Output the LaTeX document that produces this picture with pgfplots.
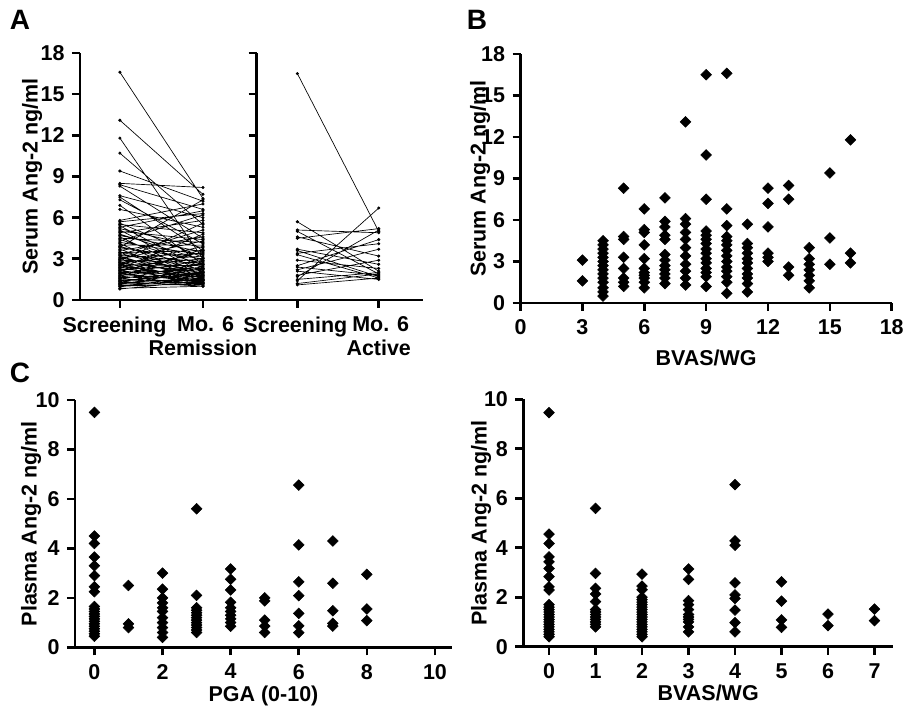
\documentclass[border=0pt]{standalone}
\usepackage{pgfplots}
\pgfplotsset{compat=1.18}
\usepackage{fontspec}
\setmainfont{Liberation Sans}
\pgfplotsset{
  gp/.style={
    scale only axis, anchor=south west, clip=false,
    axis x line*=bottom, axis y line*=left,
    axis line style={line width=2pt, black},
    every tick/.style={line width=2pt, black},
    major tick length=6pt, tick align=outside,
    ticklabel style={font=\bfseries},
    label style={font=\bfseries},
    /pgf/number format/assume math mode=true,
    xticklabel style={yshift=-1pt},
  },
  ylab/.style={every axis y label/.style={at={(rel axis cs:0,0.5)}, xshift=-#1, rotate=90, anchor=center, font=\bfseries}},
  dia/.style={only marks, mark=square*, mark size=2.85pt, mark options={rotate=45, black, fill=black}, black},
}
\begin{document}
\fontsize{16.1}{17.5}\selectfont\bfseries
\begin{tikzpicture}
\useasboundingbox (0,0) rectangle (678pt,532.5pt);
% Panel A - Remission
\begin{axis}[gp, at={(60pt,307.5pt)}, width=125.25pt, height=185.25pt,
  xmin=-0.48, xmax=1.53, ymin=0, ymax=18, ytick={0,3,...,18},
  xtick={0,1}, xticklabels={{Screening\hspace{8pt}},{\hspace{4pt}Mo. 6\\Remission}},
  xticklabel style={align=center},
  ylab=36pt, ylabel={Serum Ang-2 ng/ml}, unbounded coords=jump]
\addplot[black, line width=0.5pt, mark=*, mark size=0.9pt] coordinates {
(0,16.6)(1,7.4)(0,nan)(0,13.1)(1,7.7)(0,nan)(0,11.8)(1,3.0)(0,nan)(0,10.7)(1,5.5)(0,nan)
(0,9.4)(1,7.2)(0,nan)(0,8.5)(1,8.2)(0,nan)(0,8.4)(1,6.6)(0,nan)(0,8.3)(1,4.5)(0,nan)
(0,7.6)(1,6.0)(0,nan)(0,7.5)(1,3.6)(0,nan)(0,7.3)(1,4.1)(0,nan)(0,6.9)(1,2.6)(0,nan)
(0,6.6)(1,5.3)(0,nan)(0,5.8)(1,7.0)(0,nan)(0,5.7)(1,6.3)(0,nan)(0,5.6)(1,3.1)(0,nan)
(0,5.5)(1,4.9)(0,nan)(0,5.4)(1,2.3)(0,nan)(0,5.3)(1,6.5)(0,nan)(0,5.2)(1,3.8)(0,nan)
(0,5.1)(1,2.0)(0,nan)(0,5.0)(1,4.4)(0,nan)(0,4.9)(1,5.8)(0,nan)(0,4.8)(1,2.9)(0,nan)
(0,4.7)(1,3.5)(0,nan)(0,4.6)(1,1.8)(0,nan)(0,4.5)(1,4.2)(0,nan)(0,4.4)(1,2.6)(0,nan)
(0,4.3)(1,6.2)(0,nan)(0,4.2)(1,3.3)(0,nan)(0,4.1)(1,1.6)(0,nan)(0,4.0)(1,4.0)(0,nan)
(0,3.9)(1,2.4)(0,nan)(0,3.85)(1,7.3)(0,nan)(0,3.8)(1,3.0)(0,nan)(0,3.7)(1,1.5)(0,nan)
(0,3.6)(1,4.6)(0,nan)(0,3.5)(1,2.2)(0,nan)(0,3.45)(1,3.6)(0,nan)(0,3.4)(1,1.9)(0,nan)
(0,3.3)(1,5.1)(0,nan)(0,3.25)(1,2.8)(0,nan)(0,3.2)(1,1.4)(0,nan)(0,3.1)(1,3.4)(0,nan)
(0,3.05)(1,2.1)(0,nan)(0,3.0)(1,4.3)(0,nan)(0,2.95)(1,1.7)(0,nan)(0,2.9)(1,2.7)(0,nan)
(0,2.85)(1,5.6)(0,nan)(0,2.8)(1,1.3)(0,nan)(0,2.75)(1,3.2)(0,nan)(0,2.7)(1,2.0)(0,nan)
(0,2.65)(1,1.2)(0,nan)(0,2.6)(1,3.9)(0,nan)(0,2.55)(1,2.5)(0,nan)(0,2.5)(1,1.6)(0,nan)
(0,2.45)(1,3.0)(0,nan)(0,2.4)(1,1.1)(0,nan)(0,2.35)(1,2.3)(0,nan)(0,2.3)(1,4.8)(0,nan)
(0,2.25)(1,1.9)(0,nan)(0,2.2)(1,2.6)(0,nan)(0,2.15)(1,1.4)(0,nan)(0,2.1)(1,3.5)(0,nan)
(0,2.05)(1,1.8)(0,nan)(0,2.0)(1,2.2)(0,nan)(0,1.95)(1,1.3)(0,nan)(0,1.9)(1,2.9)(0,nan)
(0,1.85)(1,1.5)(0,nan)(0,1.8)(1,2.4)(0,nan)(0,1.75)(1,1.1)(0,nan)(0,1.7)(1,3.7)(0,nan)
(0,1.65)(1,1.7)(0,nan)(0,1.6)(1,2.0)(0,nan)(0,1.55)(1,1.2)(0,nan)(0,1.5)(1,2.7)(0,nan)
(0,1.45)(1,1.4)(0,nan)(0,1.4)(1,1.9)(0,nan)(0,1.35)(1,1.0)(0,nan)(0,1.3)(1,2.3)(0,nan)
(0,1.25)(1,1.6)(0,nan)(0,1.2)(1,1.3)(0,nan)(0,1.15)(1,2.1)(0,nan)(0,1.1)(1,1.1)(0,nan)
(0,1.05)(1,1.5)(0,nan)(0,1.0)(1,1.2)(0,nan)(0,0.95)(1,1.8)(0,nan)(0,0.85)(1,1.0)(0,nan)
(0,0.8)(1,1.4)
};
\end{axis}
% Panel A - Active
\begin{axis}[gp, at={(192.5pt,307.5pt)}, width=124.5pt, height=185.25pt,
  xmin=-0.5, xmax=1.54, ymin=0, ymax=18, ytick={0,3,...,18}, yticklabels={},
  xtick={0,1}, xticklabels={{Screening\hspace{3pt}},{\hspace{3pt}Mo. 6\\Active}},
  xticklabel style={align=center}, unbounded coords=jump]
\addplot[black, line width=0.5pt, mark=*, mark size=0.9pt] coordinates {
(0,16.5)(1,5.0)(0,nan)(0,5.7)(1,2.1)(0,nan)(0,5.1)(1,4.9)(0,nan)(0,5.0)(1,1.9)(0,nan)
(0,4.6)(1,3.2)(0,nan)(0,4.5)(1,5.2)(0,nan)(0,3.7)(1,2.6)(0,nan)(0,3.6)(1,1.7)(0,nan)
(0,3.4)(1,4.1)(0,nan)(0,3.3)(1,1.6)(0,nan)(0,2.9)(1,2.3)(0,nan)(0,2.5)(1,4.4)(0,nan)
(0,2.4)(1,1.8)(0,nan)(0,2.2)(1,3.7)(0,nan)(0,2.1)(1,1.5)(0,nan)(0,1.8)(1,2.9)(0,nan)
(0,1.7)(1,5.1)(0,nan)(0,1.5)(1,2.0)(0,nan)(0,1.4)(1,6.7)(0,nan)(0,1.2)(1,1.9)(0,nan)
(0,1.1)(1,1.6)
};
\end{axis}
% Panel B
\begin{axis}[gp, at={(390.4pt,305.25pt)}, width=278.4pt, height=186.75pt,
  xmin=0, xmax=18, xtick={0,3,...,18}, ymin=0, ymax=18, ytick={0,3,...,18},
  xlabel={BVAS/WG}, ylab=30.4pt, ylabel={Serum Ang-2 ng/ml}]
\addplot[dia] coordinates {
(3,3.1)(3,1.6)
(4,4.5)(4,4.2)(4,3.9)(4,3.6)(4,3.3)(4,3.0)(4,2.7)(4,2.4)(4,2.1)(4,1.8)(4,1.5)(4,1.1)(4,0.8)(4,0.5)
(5,8.3)(5,4.8)(5,4.6)(5,3.3)(5,2.5)(5,1.8)(5,1.5)(5,1.2)
(6,6.8)(6,5.3)(6,5.1)(6,4.2)(6,3.2)(6,2.5)(6,2.2)(6,2.0)(6,1.8)(6,1.5)(6,1.1)
(7,7.6)(7,5.9)(7,5.5)(7,4.9)(7,4.6)(7,3.5)(7,3.1)(7,2.7)(7,2.4)(7,2.1)(7,1.8)(7,1.4)
(8,13.1)(8,6.1)(8,5.7)(8,5.1)(8,4.6)(8,4.0)(8,3.4)(8,2.8)(8,2.3)(8,1.8)(8,1.3)
(9,16.5)(9,10.7)(9,7.5)(9,5.2)(9,4.9)(9,4.6)(9,4.3)(9,3.9)(9,3.6)(9,3.2)(9,2.9)(9,2.5)(9,2.2)(9,1.9)(9,1.2)
(10,16.6)(10,6.8)(10,5.6)(10,4.8)(10,4.5)(10,4.2)(10,3.8)(10,3.4)(10,3.0)(10,2.6)(10,2.3)(10,1.9)(10,1.5)(10,0.7)
(11,5.7)(11,4.3)(11,4.0)(11,3.6)(11,3.2)(11,2.9)(11,2.5)(11,2.1)(11,1.8)(11,1.4)(11,0.8)
(12,8.3)(12,7.2)(12,5.5)(12,3.6)(12,3.3)(12,3.0)
(13,8.5)(13,7.5)(13,2.6)(13,2.0)
(14,4.0)(14,3.2)(14,2.8)(14,2.4)(14,2.0)(14,1.6)(14,1.1)
(15,9.4)(15,4.7)(15,2.8)
(16,11.8)(16,3.6)(16,2.9)
};
\end{axis}
% Panel C left
\begin{axis}[gp, at={(56.25pt,47pt)}, width=282.75pt, height=185.5pt,
  xmin=-0.57, xmax=10.5, xtick={0,2,...,10}, ymin=0, ymax=10, ytick={0,2,...,10},
  xlabel={PGA (0-10)}, xlabel shift=-6pt, ylab=33pt, ylabel={Plasma Ang-2 ng/ml}]
\addplot[dia] coordinates {
(0,9.5)(0,4.5)(0,4.2)(0,3.65)(0,3.3)(0,2.9)(0,2.45)(0,2.25)(0,1.65)(0,1.55)(0,1.45)(0,1.35)(0,1.25)(0,1.15)(0,1.05)(0,0.95)(0,0.85)(0,0.75)(0,0.65)(0,0.55)(0,0.45)
(1,2.5)(1,0.95)(1,0.8)
(2,3.0)(2,2.35)(2,2.0)(2,1.8)(2,1.6)(2,1.45)(2,1.2)(2,1.0)(2,0.8)(2,0.6)(2,0.4)
(3,5.6)(3,2.1)(3,1.6)(3,1.5)(3,1.4)(3,1.3)(3,1.2)(3,1.1)(3,1.0)(3,0.9)(3,0.8)(3,0.7)(3,0.6)
(4,3.17)(4,2.75)(4,2.32)(4,1.82)(4,1.6)(4,1.45)(4,1.3)(4,1.15)(4,1.0)(4,0.85)
(5,2.0)(5,1.88)(5,1.1)(5,0.86)(5,0.6)
(6,6.56)(6,4.14)(6,2.65)(6,2.09)(6,1.37)(6,0.87)(6,0.59)
(7,4.3)(7,2.59)(7,1.48)(7,0.97)(7,0.86)
(8,2.95)(8,1.55)(8,1.08)
};
\end{axis}
% Panel C right
\begin{axis}[gp, at={(392.5pt,47.5pt)}, width=277.3pt, height=185.5pt,
  xmin=-0.553, xmax=7.4, xtick={0,1,...,7}, ymin=0, ymax=10, ytick={0,2,...,10},
  xlabel={BVAS/WG}, xlabel shift=-6pt, ylab=31.7pt, ylabel={Plasma Ang-2 ng/ml}]
\addplot[dia] coordinates {
(0,9.46)(0,4.55)(0,4.17)(0,3.63)(0,3.43)(0,3.16)(0,2.83)(0,2.42)(0,2.29)(0,1.7)(0,1.6)(0,1.5)(0,1.4)(0,1.3)(0,1.2)(0,1.1)(0,1.0)(0,0.9)(0,0.8)(0,0.7)(0,0.6)(0,0.5)(0,0.4)
(1,5.59)(1,2.96)(1,2.36)(1,2.13)(1,1.82)(1,1.5)(1,1.4)(1,1.3)(1,1.2)(1,1.1)(1,1.0)(1,0.9)(1,0.8)
(2,2.93)(2,2.45)(2,2.3)(2,2.0)(2,1.9)(2,1.8)(2,1.7)(2,1.6)(2,1.5)(2,1.4)(2,1.3)(2,1.2)(2,1.1)(2,1.0)(2,0.9)(2,0.8)(2,0.7)(2,0.6)(2,0.5)(2,0.4)
(3,3.14)(3,2.72)(3,1.86)(3,1.7)(3,1.5)(3,1.3)(3,1.2)(3,1.1)(3,1.0)(3,0.8)(3,0.6)
(4,6.55)(4,4.28)(4,4.1)(4,2.58)(4,2.09)(4,1.95)(4,1.48)(4,0.97)(4,0.6)
(5,2.62)(5,1.84)(5,1.08)(5,0.78)
(6,1.32)(6,0.85)
(7,1.52)(7,1.05)
};
\end{axis}
\node[font=\fontsize{21}{24}\selectfont\bfseries] at (15pt,517.5pt) {A};
\node[font=\fontsize{21}{24}\selectfont\bfseries] at (357.75pt,517.5pt) {B};
\node[font=\fontsize{21}{24}\selectfont\bfseries] at (15pt,252.75pt) {C};
\end{tikzpicture}
\end{document}
